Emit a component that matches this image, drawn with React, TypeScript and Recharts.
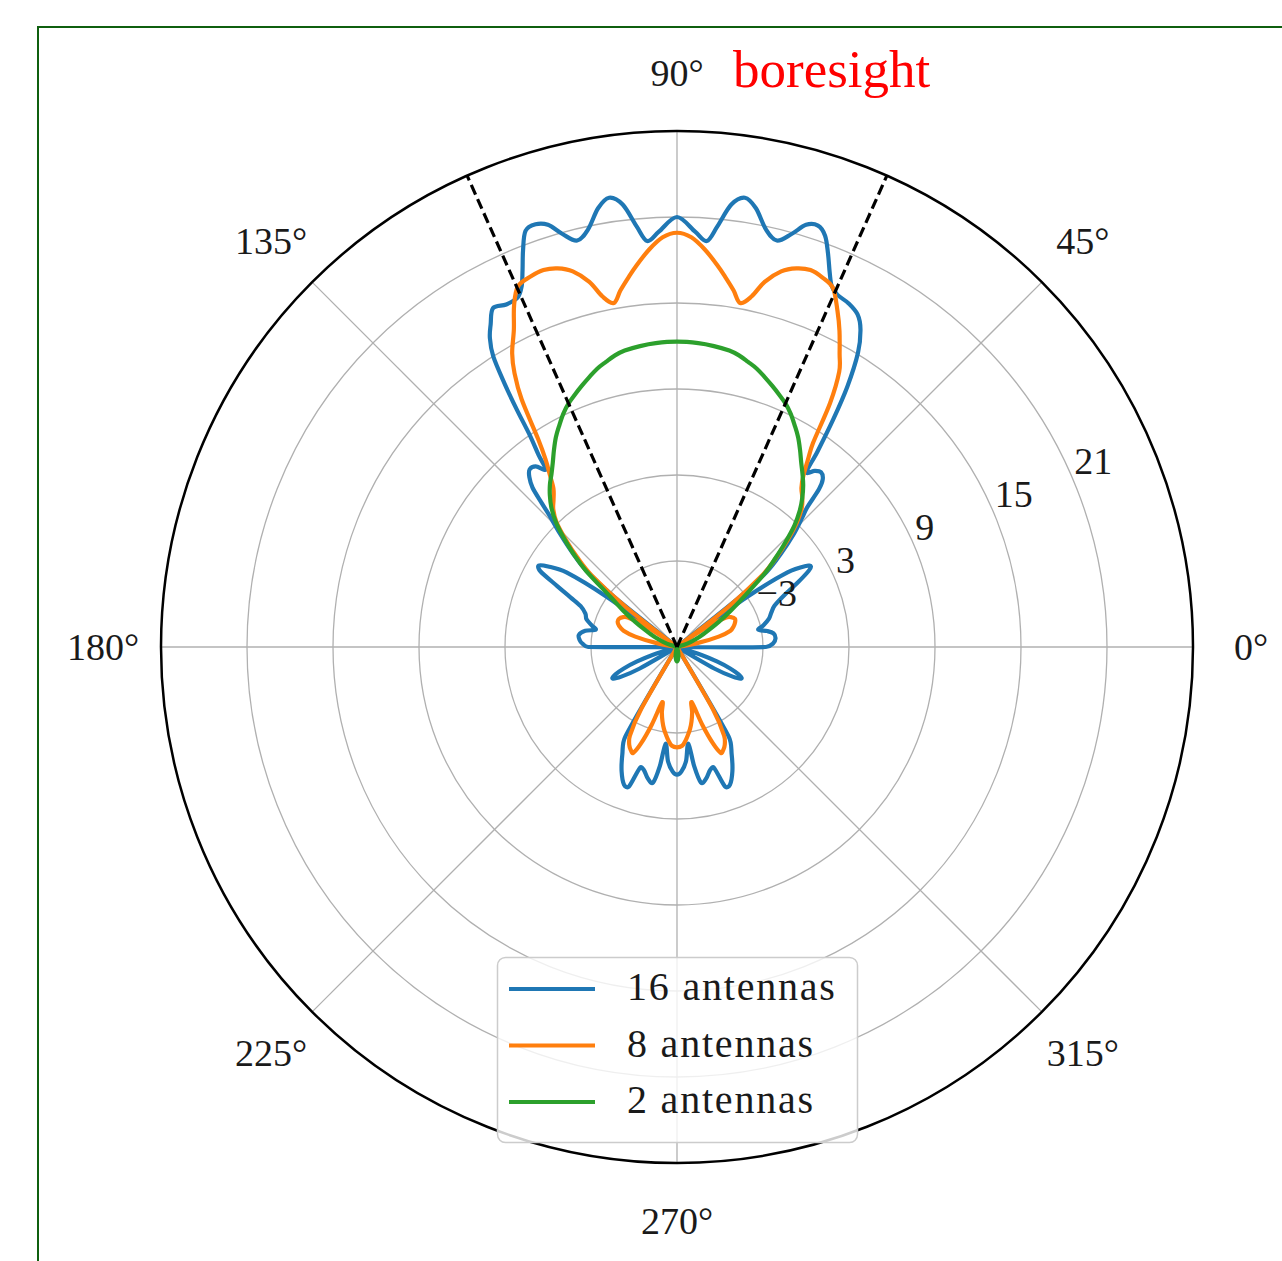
import React from 'react';
import { RadarChart, Radar, PolarGrid, PolarAngleAxis, PolarRadiusAxis } from 'recharts';

// ---------- data ----------
const ANGLE_TICKS = [0, 45, 90, 135, 180, 225, 270, 315];
const GAIN_TICKS = [-3, 3, 9, 15, 21];
const GAIN_DOMAIN: [number, number] = [-9, 27];

const SERIES_NAMES = ['16 antennas', '8 antennas', '2 antennas'];
const SERIES_COLORS = ['#1f77b4', '#ff7f0e', '#2ca02c'];

// [angle in degrees, gain in dB]
const gain16: [number, number][] = [
  [0, -2.8], [2, -2.3], [5, -2.1], [8, -2.2], [10, -2.6], [12, -3.2], [14, -2.8], [17, -2.3], [20, -2.0],
  [23, -1.6], [26, -0.6], [28, 0.5], [30, 1.6], [31, 1.9], [32, 1.7], [34, 0.3], [35.5, -3.0], [37, -9],
  [38.5, -3.5], [40, -0.8], [42, 0.8], [44, 2.3], [46, 3.6], [47, 4.3], [48, 5.8], [49, 6.5], [50.5, 6.8],
  [52, 6.6], [53.5, 6.2], [54.3, 7.8], [55.5, 10.2], [56.8, 12.7], [58.4, 15.1], [60, 16.6], [61.5, 17.4],
  [63.5, 17.8], [65.5, 18.0], [66.8, 18.4], [67.8, 19.2], [69, 20.4], [70.2, 21.5], [71.5, 22.0], [73, 21.8],
  [74.5, 20.9], [76.2, 20.2], [78, 20.8], [79.8, 22.1], [81.4, 22.7], [83, 22.1], [84.5, 20.5], [85.8, 19.4],
  [87.5, 20.0], [90, 21.0], [92.5, 20.0], [94.2, 19.4], [95.5, 20.5], [97, 22.1], [98.6, 22.7], [100.2, 22.1],
  [102, 20.8], [103.8, 20.2], [105.5, 20.9], [107, 21.8], [108.5, 22.1], [110, 21.9], [111.2, 20.7],
  [112.3, 19.4], [113.3, 18.4], [114.5, 17.8], [116.5, 17.7], [118.5, 17.9], [120, 17.0], [121.2, 16.2],
  [122.3, 15.0], [123.2, 13.0], [124, 11.0], [124.8, 9.0], [125.8, 7.5], [126.5, 6.4], [128, 7.0],
  [129.7, 7.1], [131, 6.7], [132.2, 6.0], [133.2, 4.8], [134, 3.9], [136, 2.3], [138, 0.8], [140, -0.8],
  [141.5, -3.5], [143, -9], [144.5, -3.0], [146, 0.3], [148, 1.6], [149.5, 2.2], [151, 1.9], [153, 0.4],
  [155, -0.8], [157, -1.7], [160, -2.2], [163, -2.4], [166, -2.9], [168, -3.2], [170, -2.5], [173, -2.1],
  [176, -2.2], [178, -2.4], [180, -2.8], [182, -9], [196, -9], [198, -7.2], [200, -6.0], [202, -5.0],
  [204, -4.3], [206, -4.0], [208, -4.6], [210, -6.0], [212, -9], [238, -9], [240, -1.8], [243, -0.6],
  [246, 0.5], [249, 1.3], [251, 1.3], [253, -0.2], [255, -0.1], [257.5, 0.4], [260, 0.6], [261.8, -0.6],
  [263.3, -2.2], [265.5, -1.0], [268, -0.3], [270, -0.1], [272, -0.3], [274.5, -1.0], [276.7, -2.2],
  [278.2, -0.6], [280, 0.6], [282.5, 0.4], [285, -0.1], [287, -0.2], [289, 1.3], [291, 1.3], [294, 0.5],
  [297, -0.6], [300, -1.8], [302, -9], [328, -9], [330, -6.0], [332, -4.6], [334, -4.0], [336, -4.3],
  [338, -5.0], [340, -6.0], [342, -7.2], [344, -9], [358, -9],
];

const gain8: [number, number][] = [
  [0, -9], [8, -9], [11, -7.5], [14, -6.0], [17, -5.1], [20, -4.8], [23, -4.6], [26, -4.5], [29, -4.7],
  [31, -5.0], [33, -6.0], [35, -7.5], [36.5, -9], [38, -4.5], [40, -1.3], [42, 0.3], [44, 1.7], [46, 3.0],
  [48, 4.0], [50, 4.6], [52, 5.1], [53.5, 5.8], [55, 6.9], [56.3, 8.1], [57.9, 11.1], [59.5, 13.3],
  [61, 14.4], [62.8, 15.8], [64.5, 17.0], [66.5, 18.3], [68.5, 18.7], [70.5, 18.9], [72.5, 18.7],
  [74.5, 18.2], [76.5, 17.2], [78, 16.0], [79.6, 15.4], [81, 16.2], [82.5, 17.0], [84, 17.8], [86, 18.8],
  [88, 19.6], [90, 19.9], [92, 19.6], [94, 18.8], [96, 17.8], [97.5, 17.0], [99, 16.2], [100.4, 15.4],
  [102, 16.0], [103.5, 17.2], [105.5, 18.2], [107.5, 18.7], [109.5, 18.9], [111.5, 18.8], [113.8, 18.5],
  [115.5, 17.4], [117.2, 15.9], [119.3, 14.5], [120.7, 13.2], [122.1, 11.4], [123.7, 8.5], [125, 7.0],
  [126.5, 5.9], [128, 5.0], [130, 4.4], [132, 3.9], [134, 3.1], [136, 1.8], [138, 0.4], [140, -1.2],
  [142, -4.5], [143.5, -9], [145, -7.5], [147, -6.0], [149, -5.0], [151, -4.7], [154, -4.5], [157, -4.5],
  [160, -4.7], [163, -5.1], [166, -6.0], [169, -7.5], [172, -9], [238, -9], [240, -4.0], [242, -2.0],
  [244, -1.4], [246, -1.1], [247.5, -1.0], [249.5, -1.8], [252, -3.3], [255, -5.0], [257, -4.3],
  [259, -3.7], [261, -3.2], [263, -2.8], [265, -2.4], [267, -2.1], [270, -2.0], [273, -2.1], [275, -2.4],
  [277, -2.8], [279, -3.2], [281, -3.7], [283, -4.3], [285, -5.0], [288, -3.3], [290.5, -1.8],
  [292.5, -1.0], [294, -1.1], [296, -1.4], [298, -2.0], [300, -4.0], [302, -9],
];

const gain2: [number, number][] = [
  [0, -9], [14, -9], [17, -8.6], [20, -8.0], [24, -7.3], [28, -6.5], [31, -5.6], [34, -4.5], [37, -3.1],
  [40, -1.0], [42, 0.2], [44, 1.5], [46, 2.8], [48, 3.8], [50, 4.6], [52, 5.3], [54, 5.9], [56, 6.5],
  [58, 7.2], [60, 7.9], [62, 8.5], [64, 9.1], [66, 9.6], [68, 10.0], [70, 10.4], [72, 10.8], [74, 11.2],
  [76, 11.5], [78, 11.8], [80, 12.0], [83, 12.15], [86, 12.25], [90, 12.3], [94, 12.25], [97, 12.15],
  [100, 12.0], [102, 11.8], [104, 11.5], [106, 11.2], [108, 10.8], [110, 10.4], [112, 10.0], [114, 9.6],
  [116, 9.1], [118, 8.5], [120, 7.9], [122, 7.2], [124, 6.5], [126, 5.9], [128, 5.4], [130, 4.8],
  [132, 4.1], [134, 3.2], [136, 2.0], [138, 0.7], [140, -0.7], [143, -3.2], [146, -4.5], [149, -5.6],
  [152, -6.5], [156, -7.3], [160, -8.0], [163, -8.6], [166, -9], [250, -9], [258, -8.6], [264, -8.2],
  [270, -8.0], [276, -8.2], [282, -8.6], [290, -9],
];

// boresight sector edges (dashed spokes from the centre to the rim)
const spokeAngles = [0, 66, 114, 200];
const spokeRightGain = [-9, 27, -9, -9];
const spokeLeftGain = [-9, -9, 27, -9];

// ---------- tables ----------
const toRows = (pts: [number, number][]) => pts.map(([angle, gain]) => ({ angle, gain }));
const SERIES_DATA = [toRows(gain16), toRows(gain8), toRows(gain2)];
const spokeData = spokeAngles.map((angle, i) => ({ angle, right: spokeRightGain[i], left: spokeLeftGain[i] }));

// ---------- layout ----------
const W = 1282;
const H = 1261;
const CX = 677;
const CY = 647;
const R = 516;
const LW = 4.2;
const FONT = '"Liberation Serif", "Times New Roman", serif';
// dash period chosen so that the out-and-back stroke of each spoke overlaps exactly
const DASH = `10.5 ${((2 * R - 10.5) / 66 - 10.5).toFixed(4)}`;

type Pt = { x: number; y: number };

// smooth closed path through the points Recharts computed (sharp at the centre)
function smoothClosed(pts: Pt[]): string {
  const n = pts.length;
  if (n < 2) return '';
  const P = (i: number) => pts[((i % n) + n) % n];
  const atCentre = (p: Pt) => Math.hypot(p.x - CX, p.y - CY) < 0.5;
  const dist = (a: Pt, b: Pt) => Math.hypot(a.x - b.x, a.y - b.y);
  const ctrl = (i: number) => {
    const p = P(i);
    if (atCentre(p)) return { out: p, inn: p };
    const a = P(i - 1);
    const b = P(i + 1);
    const L = dist(a, b);
    if (L < 1e-6) return { out: p, inn: p };
    const ux = (b.x - a.x) / L;
    const uy = (b.y - a.y) / L;
    const lo = Math.min(L / 6, 0.42 * dist(p, b));
    const li = Math.min(L / 6, 0.42 * dist(p, a));
    return { out: { x: p.x + ux * lo, y: p.y + uy * lo }, inn: { x: p.x - ux * li, y: p.y - uy * li } };
  };
  const f = (v: number) => v.toFixed(2);
  let d = `M${f(P(0).x)},${f(P(0).y)}`;
  for (let i = 0; i < n; i++) {
    const c0 = ctrl(i).out;
    const c1 = ctrl(i + 1).inn;
    const p1 = P(i + 1);
    d += `C${f(c0.x)},${f(c0.y)} ${f(c1.x)},${f(c1.y)} ${f(p1.x)},${f(p1.y)}`;
  }
  return d + 'Z';
}

const curveShape = (color: string) => (props: any) => (
  <path d={smoothClosed(props.points || [])} fill="none" stroke={color} strokeWidth={LW}
    strokeLinejoin="round" strokeLinecap="round" />
);

const spokeShape = (props: any) => {
  const pts: Pt[] = props.points || [];
  const d = pts.map((p, i) => `${i === 0 ? 'M' : 'L'}${p.x.toFixed(2)},${p.y.toFixed(2)}`).join('');
  return <path d={d} fill="none" stroke="#000" strokeWidth={3.2} strokeDasharray={DASH} />;
};

const renderAngleTick = (props: any) => {
  const { x, y, payload } = props;
  if (payload.value >= 360) return <g />;
  return (
    <text x={x} y={y} textAnchor="middle" dominantBaseline="central" fontFamily={FONT} fontSize={38} fill="#1a1a1a">
      {`${payload.value}°`}
    </text>
  );
};

const renderGainTick = (props: any) => {
  const { x, y, payload } = props;
  const v = payload.value;
  const label = v < 0 ? `\u2212${Math.abs(v)}` : `${v}`;
  return (
    <text x={x} y={y - 8} textAnchor="start" fontFamily={FONT} fontSize={38} fill="#1a1a1a">
      {label}
    </text>
  );
};

const layerStyle: React.CSSProperties = { position: 'absolute', left: 0, top: 0 };

function Layer({ data, children }: { data: any[]; children: React.ReactNode }) {
  return (
    <div style={layerStyle}>
      <RadarChart
        width={W} height={H} cx={CX} cy={CY} outerRadius={R}
        startAngle={0} endAngle={360} data={data}
        margin={{ top: 0, right: 0, bottom: 0, left: 0 }}
      >
        {children}
      </RadarChart>
    </div>
  );
}

const hiddenAxes = [
  <PolarAngleAxis key="a" dataKey="angle" type="number" domain={[0, 360]} tick={false} axisLine={false} tickLine={false} />,
  <PolarRadiusAxis key="r" type="number" domain={GAIN_DOMAIN} tick={false} axisLine={false} tickLine={false} />,
];

export default function App() {
  return (
    <div style={{ position: 'fixed', left: 0, top: 0, width: W, height: H, overflow: 'hidden', background: '#fff' }}>
      <div
        style={{
          position: 'absolute', left: 37, top: 26, width: 1400, height: 1400,
          border: '2px solid #0f5f0f', boxSizing: 'border-box',
        }}
      />
      {/* base layer: grid, axes and the 16-antenna pattern */}
      <Layer data={SERIES_DATA[0]}>
        <PolarGrid gridType="circle" stroke="#b0b0b0" strokeWidth={1.3} />
        <PolarAngleAxis
          dataKey="angle" type="number" domain={[0, 360]} ticks={ANGLE_TICKS} tickCount={9}
          axisLineType="circle" axisLine={{ stroke: '#000', strokeWidth: 2.5 }}
          tickLine={false} tickSize={58} tick={renderAngleTick}
        />
        <PolarRadiusAxis
          angle={22.5} type="number" domain={GAIN_DOMAIN} ticks={GAIN_TICKS}
          axisLine={false} tickLine={false} tick={renderGainTick}
        />
        <Radar
          name={SERIES_NAMES[0]} dataKey="gain" stroke={SERIES_COLORS[0]} strokeWidth={LW}
          fill="none" fillOpacity={0} isAnimationActive={false} shape={curveShape(SERIES_COLORS[0])}
        />
      </Layer>
      {[1, 2].map((i) => (
        <Layer key={i} data={SERIES_DATA[i]}>
          {hiddenAxes}
          <Radar
            name={SERIES_NAMES[i]} dataKey="gain" stroke={SERIES_COLORS[i]} strokeWidth={LW}
            fill="none" fillOpacity={0} isAnimationActive={false} shape={curveShape(SERIES_COLORS[i])}
          />
        </Layer>
      ))}
      <Layer data={spokeData}>
        {hiddenAxes}
        <Radar dataKey="right" stroke="#000" strokeWidth={3.2} fill="none" fillOpacity={0} isAnimationActive={false} shape={spokeShape} />
        <Radar dataKey="left" stroke="#000" strokeWidth={3.2} fill="none" fillOpacity={0} isAnimationActive={false} shape={spokeShape} />
      </Layer>
      <svg width={W} height={H} style={{ position: 'absolute', left: 0, top: 0, pointerEvents: 'none' }}>
        <text x={733} y={87} fill="#ff0000" fontFamily={FONT} fontSize={53}>boresight</text>
        <rect x={497.5} y={957.5} width={360} height={185} rx={8} ry={8}
          fill="rgba(255,255,255,0.8)" stroke="#cccccc" strokeWidth={1.5} />
        {SERIES_NAMES.map((n, i) => (
          <g key={n}>
            <line x1={509} x2={595} y1={989 + i * 56.5} y2={989 + i * 56.5} stroke={SERIES_COLORS[i]} strokeWidth={LW} />
            <text x={627} y={1000 + i * 56.5} fontFamily={FONT} fontSize={40} fill="#1a1a1a" letterSpacing={1.8}>{n}</text>
          </g>
        ))}
      </svg>
    </div>
  );
}
